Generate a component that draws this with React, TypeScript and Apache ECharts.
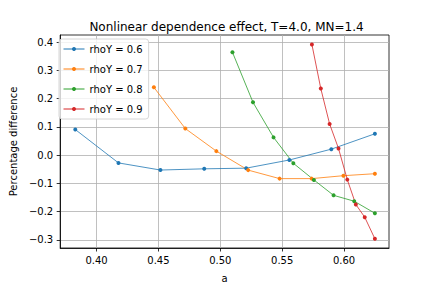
import React, { useEffect, useRef } from "react";
import * as echarts from "echarts";

const seriesNames = ["rhoY = 0.6", "rhoY = 0.7", "rhoY = 0.8", "rhoY = 0.9"];
const colors = ["#1f77b4", "#ff7f0e", "#2ca02c", "#d62728"];

const xRho06 = [0.3828, 0.4177, 0.4516, 0.487, 0.5209, 0.5558, 0.5897, 0.6249];
const yRho06 = [0.0904, -0.0278, -0.053, -0.0487, -0.0464, -0.0174, 0.0209, 0.0753];

const xRho07 = [0.4463, 0.4717, 0.4968, 0.5225, 0.5479, 0.5738, 0.5995, 0.6249];
const yRho07 = [0.2398, 0.0938, 0.0139, -0.0533, -0.0834, -0.0834, -0.073, -0.066];

const xRho08 = [0.5098, 0.5264, 0.543, 0.559, 0.5756, 0.5915, 0.6082, 0.6249];
const yRho08 = [0.3639, 0.1866, 0.0626, -0.029, -0.088, -0.1425, -0.1634, -0.206];

const xRho09 = [0.574, 0.5812, 0.5883, 0.5955, 0.6026, 0.6095, 0.6167, 0.6249];
const yRho09 = [0.3917, 0.2353, 0.1102, 0.0233, -0.0869, -0.175, -0.22, -0.2965];

const xTicks = [0.4, 0.45, 0.5, 0.55, 0.6];
const yTicks = [-0.3, -0.2, -0.1, 0.0, 0.1, 0.2, 0.3, 0.4];

const FONT = "DejaVu Sans";

export default function App() {
  const ref = useRef<HTMLDivElement>(null);
  useEffect(() => {
    if (!ref.current) return;
    const chart = echarts.init(ref.current, undefined, { renderer: "svg" });
    const xs = [xRho06, xRho07, xRho08, xRho09];
    const ys = [yRho06, yRho07, yRho08, yRho09];
    const minus = (s: string) => s.replace("-", "\u2212");
    const axisCommon = {
      axisLine: { show: true, onZero: false, lineStyle: { color: "#000", width: 0.8 } },
      axisTick: { show: true, inside: false, length: 3.5, lineStyle: { color: "#000", width: 0.8 } },
      splitLine: { show: true, lineStyle: { color: "#b0b0b0", width: 0.8 } },
      nameTextStyle: { fontFamily: FONT, fontSize: 10, color: "#000" },
    };
    chart.setOption({
      animation: false,
      backgroundColor: "#fff",
      title: {
        text: "Nonlinear dependence effect, T=4.0, MN=1.4",
        left: 221.5,
        textAlign: "center",
        top: 16,
        textStyle: { fontFamily: FONT, fontSize: 12, fontWeight: "normal", color: "#000" },
      },
      grid: { left: 54, right: 43, top: 35, bottom: 36, containLabel: false, show: true, borderColor: "#000", borderWidth: 0.8 },
      legend: {
        orient: "vertical",
        left: 59,
        top: 39,
        itemWidth: 21,
        itemHeight: 5,
        itemGap: 10,
        padding: [5, 6, 5, 4],
        backgroundColor: "rgba(255,255,255,0.8)",
        borderColor: "#cccccc",
        borderWidth: 0.8,
        borderRadius: 3,
        lineStyle: { width: 1 },
        textStyle: { fontFamily: FONT, fontSize: 10, color: "#000" },
        data: seriesNames,
      },
      xAxis: {
        type: "value",
        min: 0.3706,
        max: 0.6363,
        name: "a",
        nameLocation: "middle",
        nameGap: 25,
        ...axisCommon,
        axisTick: { ...axisCommon.axisTick, customValues: xTicks },
        axisLabel: {
          customValues: xTicks,
          fontFamily: FONT,
          fontSize: 10,
          color: "#000",
          margin: 7,
          formatter: (v: number) => v.toFixed(2),
        },
      },
      yAxis: {
        type: "value",
        min: -0.329,
        max: 0.425,
        name: "Percentage difference",
        nameLocation: "middle",
        nameGap: 38,
        ...axisCommon,
        axisTick: { ...axisCommon.axisTick, customValues: yTicks },
        axisLabel: {
          customValues: yTicks,
          fontFamily: FONT,
          fontSize: 10,
          color: "#000",
          margin: 7,
          formatter: (v: number) => minus(v.toFixed(1)),
        },
      },
      series: seriesNames.map((name, i) => ({
        name,
        type: "line",
        data: xs[i].map((x, j) => [x, ys[i][j]]),
        symbol: "circle",
        symbolSize: 4,
        showSymbol: true,
        lineStyle: { color: colors[i], width: 0.8 },
        itemStyle: { color: colors[i] },
        emphasis: { disabled: true },
      })),
    });
    return () => chart.dispose();
  }, []);
  return <div ref={ref} style={{ width: 432, height: 288, position: "absolute", left: 0, top: 0 }} />;
}
